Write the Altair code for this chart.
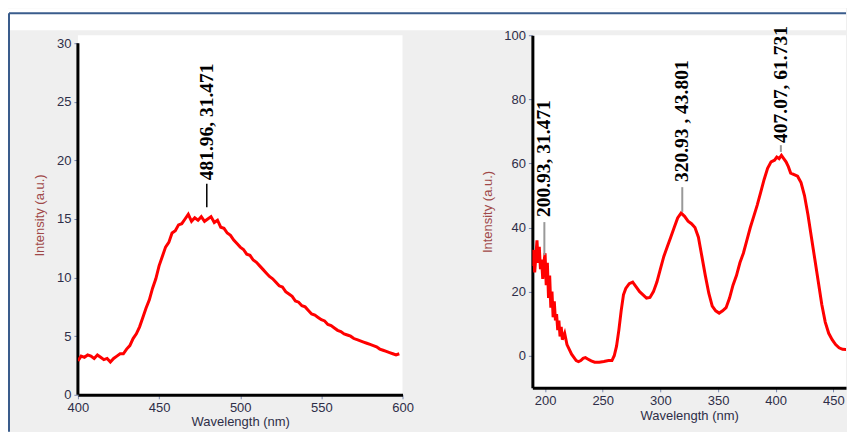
import altair as alt
import pandas as pd

# ---------------- Left panel : emission spectrum ----------------
pl_wavelength = [400, 402, 404, 406, 408, 410, 412, 414, 416, 418, 420, 422, 424, 426, 428,
                 430, 432, 434, 436, 438, 440, 442, 444, 446, 448, 450, 452, 454, 456, 458,
                 460, 462, 464, 466, 468, 470, 472, 474, 476, 478, 480, 482, 484, 486, 488,
                 490, 492, 494, 496, 498, 500, 502, 504, 506, 508, 510, 512, 514, 516, 518,
                 520, 522, 524, 526, 528, 530, 532, 534, 536, 538, 540, 542, 544, 546, 548,
                 550, 552, 554, 556, 558, 560, 562, 564, 566, 568, 570, 572, 574, 576, 578,
                 580, 582, 584, 586, 588, 590, 592, 594, 596, 598]
pl_intensity = [2.9, 3.3, 3.2, 3.4, 3.3, 3.1, 3.4, 3.2, 3.0, 3.1, 2.8, 3.1, 3.3, 3.5, 3.5,
                3.9, 4.2, 4.8, 5.2, 5.8, 6.6, 7.4, 8.1, 9.1, 9.9, 11.0, 11.8, 12.6, 13.0, 13.8,
                14.0, 14.5, 14.6, 15.0, 15.4, 14.8, 15.1, 14.9, 15.2, 14.8, 15.0, 15.2, 14.7, 14.9, 14.3,
                14.2, 13.8, 13.6, 13.2, 12.9, 12.6, 12.4, 12.0, 11.9, 11.5, 11.3, 11.0, 10.7, 10.4, 10.1,
                9.9, 9.6, 9.3, 9.2, 8.8, 8.6, 8.4, 8.0, 7.9, 7.6, 7.5, 7.2, 6.9, 6.8, 6.6,
                6.4, 6.3, 6.0, 5.9, 5.7, 5.5, 5.4, 5.2, 5.1, 5.0, 4.8, 4.7, 4.6, 4.5, 4.4,
                4.3, 4.2, 4.1, 3.9, 3.8, 3.7, 3.6, 3.5, 3.4, 3.5]

pl_label_x = [479.4]
pl_label_y = [18.3]
pl_label_text = ["481.96, 31.471"]
pl_tick_top = [18.0]
pl_tick_bottom = [16.0]

pl_x_ticks = [400, 450, 500, 550, 600]
pl_y_ticks = [0, 5, 10, 15, 20, 25, 30]
pl_y_axis_span = [0, 30]          # the drawn y-axis line runs 0..30 only

# ---------------- Right panel : absorption spectrum ----------------
abs_wavelength = [189, 190, 191, 192, 193, 194, 195, 196, 197, 198, 199, 200, 201, 202, 203,
                  204, 205, 206, 207, 208, 209, 210, 211, 212, 213, 214, 215, 217, 219, 221,
                  223, 225, 227, 229, 231, 233, 235, 237, 240, 243, 247, 251, 255, 258, 260,
                  262, 264, 266, 268, 270, 273, 276, 279, 282, 285, 288, 291, 294, 297, 300,
                  303, 306, 309, 312, 315, 318, 321, 324, 327, 330, 333, 336, 339, 342, 345,
                  348, 351, 354, 357, 360, 363, 366, 369, 372, 375, 378, 381, 384, 387, 390,
                  393, 396, 399, 401, 403, 405, 407, 409, 411, 413, 416, 419, 422, 425, 428,
                  431, 434, 437, 440, 443, 446, 449, 452, 455, 458, 462, 466, 470]
abs_intensity = [28, 33, 26, 31, 36, 29, 34, 27, 30, 24, 29, 32, 22, 29, 18,
                 25, 15, 20, 12, 17, 11, 13, 8, 11, 6, 9, 5, 7, 3.5, 2,
                 0.5, -0.5, -1.5, -1.8, -1.5, -0.8, -0.6, -1.0, -1.6, -2.0, -2.0, -1.8, -1.5, -1.5, 0,
                 3, 8, 14, 19, 21, 22.5, 23, 21.5, 20, 19, 18, 18.2, 20, 23, 27,
                 31, 34, 37, 40, 43, 44.5, 43.5, 42, 41.2, 40, 37, 31, 25, 19.5, 15.5,
                 14, 13.3, 14, 15, 18, 22, 25, 29, 32, 36, 40, 43.5, 47, 51, 55,
                 58.5, 60.5, 61, 62, 61.5, 62.5, 61.5, 60.5, 59, 57, 56.5, 56, 54, 50, 44,
                 37, 30, 23, 16, 10.5, 7, 5, 3.5, 2.5, 2, 1.9, 1.9, 2]

abs_label_x = [199.4, 319.0, 404.5]
abs_label_y = [43.3, 54.2, 66.4]
abs_label_text = ["200.93, 31.471", "320.93 , 43.801", "407.07, 61.731"]
abs_tick_top = [41.7, 52.6, 65.7]
abs_tick_bottom = [31.4, 44.9, 63.6]

abs_x_ticks = [200, 250, 300, 350, 400, 450]
abs_y_ticks = [0, 20, 40, 60, 80, 100]

# ---------------- styling ----------------
BG = "#efefef"
FRAME = "#3a5c8c"
LABEL_COLOR = "#2e2e48"
YTITLE_COLOR = "#a04848"
FONT = "Liberation Sans"
ONE = pd.DataFrame({"d": [0]})


def axis(values, title, title_color, title_pad, domain=True):
    return alt.Axis(values=values, title=title, grid=False, domain=domain,
                    domainColor="black", domainWidth=3, labelFlush=False,
                    tickColor="#7888b0", tickSize=4, tickWidth=1,
                    labelFont=FONT, labelFontSize=13, labelColor=LABEL_COLOR, labelPadding=3,
                    titleFont=FONT, titleFontSize=13, titleFontWeight="normal",
                    titleColor=title_color, titlePadding=title_pad)


def panel(curve_x, curve_y, lx, ly, ltext, ttop, tbot, xdom, ydom, xticks, yticks,
          w, h, tick_color, tick_width, ytitle_pad, xtitle_pad, deco, y_line=None):
    xenc = alt.X("x:Q", scale=alt.Scale(domain=xdom, nice=False, zero=False),
                 axis=axis(xticks, "Wavelength (nm)", LABEL_COLOR, xtitle_pad))
    yenc = alt.Y("y:Q", scale=alt.Scale(domain=ydom, nice=False, zero=False),
                 axis=axis(yticks, "Intensity (a.u.)", YTITLE_COLOR, ytitle_pad,
                           domain=(y_line is None)))
    layers = list(deco)
    if y_line is not None:
        layers.append(alt.Chart(pd.DataFrame({"x": [xdom[0]], "y": [y_line[0]], "y2": [y_line[1]]}))
                      .mark_rule(color="black", strokeWidth=3)
                      .encode(x=xenc, y=yenc, y2="y2:Q"))
    curve = alt.Chart(pd.DataFrame({"x": curve_x, "y": curve_y})).mark_line(
        color="#ff0000", strokeWidth=3, clip=True).encode(x=xenc, y=yenc)
    ticks = alt.Chart(pd.DataFrame({"x": lx, "y": ttop, "y2": tbot})).mark_rule(
        color=tick_color, strokeWidth=tick_width).encode(x=xenc, y=yenc, y2="y2:Q")
    labels = alt.Chart(pd.DataFrame({"x": lx, "y": ly, "label": ltext})).mark_text(
        angle=270, align="left", baseline="middle", font="Liberation Serif",
        fontSize=19.5, fontWeight="bold", color="black").encode(x=xenc, y=yenc, text="label:N")
    layers += [curve, ticks, labels]
    return alt.layer(*layers).properties(width=w, height=h)


# figure frame: white top band and blue border lines (left panel origin at page 78, 35)
frame = [
    alt.Chart(ONE).mark_rect(color="white").encode(
        x=alt.value(-70), x2=alt.value(769), y=alt.value(-27), y2=alt.value(-5)),
    alt.Chart(ONE).mark_rule(color=FRAME, strokeWidth=2).encode(
        x=alt.value(-69), x2=alt.value(769), y=alt.value(-22)),
    alt.Chart(ONE).mark_rule(color=FRAME, strokeWidth=2).encode(
        x=alt.value(-69), y=alt.value(-22), y2=alt.value(397)),
]

left = panel(pl_wavelength, pl_intensity, pl_label_x, pl_label_y, pl_label_text,
             pl_tick_top, pl_tick_bottom, [400, 600], [0, 30.68], pl_x_ticks, pl_y_ticks,
             325, 360, "black", 1.5, 10, 1, frame, y_line=pl_y_axis_span)
right = panel(abs_wavelength, abs_intensity, abs_label_x, abs_label_y, abs_label_text,
              abs_tick_top, abs_tick_bottom, [189, 461], [-10, 100], abs_x_ticks, abs_y_ticks,
              314, 353, "#999999", 2, 9, 2, [])

chart = alt.hconcat(left, right, spacing=130, bounds="flush").properties(
    padding={"left": 0, "top": 0, "right": 0, "bottom": 0},
    background=BG,
).configure_view(fill="white", strokeWidth=0)

chart.save("out.html", embed_options={"renderer": "svg", "actions": False})
